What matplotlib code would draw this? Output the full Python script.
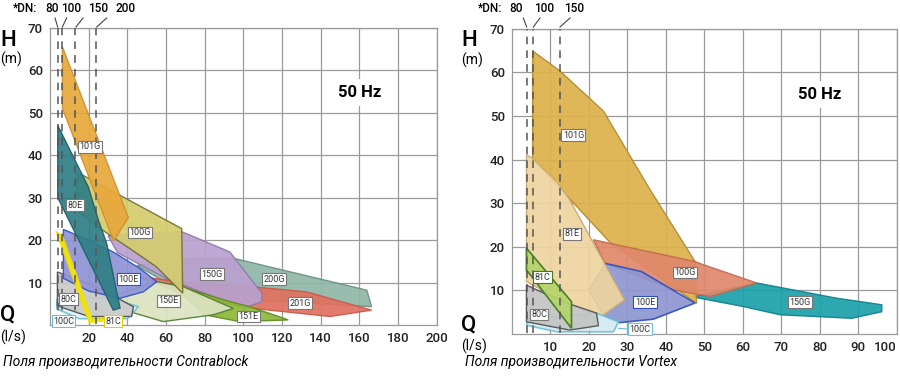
import matplotlib.pyplot as plt
from matplotlib.patches import Polygon

plt.rcParams['font.family'] = ['Roboto', 'DejaVu Sans']

# --- Contrablock fields (Q l/s, H m) ---
cb_names = ['200G', '201G', '150G', '151E', '150E', '100G', '101G',
            '100C', '80C', '100E', '80E', '81C']
cb_fields = {
    '200G': [(45, 14), (70, 15.5), (95, 15.7), (163.8, 8.2), (166.3, 4.3),
             (140, 5), (100, 6), (60, 10)],
    '201G': [(45, 11.5), (70, 10), (105, 9), (132.7, 7.8), (166.3, 3.5),
             (144.8, 2), (105, 3.9), (70, 7)],
    '150G': [(30, 21), (68, 22), (93, 17.2), (109.5, 7.5), (109.5, 5.5),
             (100, 3.9), (60, 11), (35, 17)],
    '151E': [(62, 9.8), (93, 5.5), (103.4, 4.3), (123.2, 1.2), (98, 0.8),
             (80, 2.4)],
    '150E': [(33, 7), (55.2, 10.2), (69, 9), (94.8, 3.9), (84.4, 2.4),
             (58.6, 0.8), (41.4, 3.1), (33, 4)],
    '100G': [(14, 36), (68.1, 22.7), (68.6, 7.5), (55, 13.7), (40, 18.4),
             (25, 23), (14, 27)],
    '101G': [(6.4, 65.5), (40.5, 25.3), (32.9, 19.8), (6.4, 51)],
    '100C': [(3.5, 6), (30, 6.5), (45.7, 4.3), (40, 1.5), (15, 1.5), (3.5, 3.8)],
    '80C': [(3.8, 12.5), (25.9, 8.6), (43.1, 4.3), (42.2, 2), (20, 2), (3.8, 4.5)],
    '100E': [(6.9, 22.5), (13.8, 21.2), (32.7, 17.2), (46.5, 13.3), (55.2, 10.2),
             (48.2, 7.8), (36.2, 6.3), (20, 8), (6.9, 11)],
    '80E': [(4, 47), (19.8, 32.5), (25, 24.7), (29.3, 19.2), (36.2, 4),
            (32.7, 3.5), (4, 30)],
    '81C': [(4, 21.5), (6, 21), (21.5, 1.2), (27.5, 1.2), (20.5, 0.8)],
}
cb_labels = {'101G': (20.7, 42), '80E': (12.9, 28.2), '100G': (46.5, 21.8),
             '100E': (40.5, 10.8), '150G': (83.6, 12), '80C': (9.5, 6.1),
             '150E': (61.2, 5.7), '100C': (6.9, 0.9), '81C': (32.7, 0.9),
             '200G': (116, 10.8), '201G': (129.3, 5.1), '151E': (102.5, 2.0)}
cb_dn = [80, 100, 150, 200]
cb_dn_q = [4.0, 6.4, 12.9, 23.9]

# --- Vortex fields ---
vx_names = ['150G', '101G', '100G', '100E', '81E', '100C', '80C', '81C']
vx_fields = {
    '150G': [(47, 8.5), (63.6, 11.7), (84.4, 8.2), (96.1, 6.7), (96.1, 5.1),
             (88.3, 3.6), (69.7, 4.4), (60.1, 6.3)],
    '101G': [(5.4, 64.9), (12.5, 60.3), (23.8, 51.1), (35.9, 33.1), (47.6, 16.6),
             (48, 7), (36, 14.5), (25.5, 21), (15, 31), (5.4, 40)],
    '100G': [(21.2, 21.6), (47.6, 16.6), (49.7, 15.9), (63.6, 11.7), (51.5, 8.6),
             (42, 10.1), (24.2, 16.2)],
    '100E': [(24.2, 16.2), (33.7, 14.3), (47.6, 7.1), (36.8, 3.4), (28, 2.6),
             (24, 4), (20, 10)],
    '81E': [(3.8, 41.1), (5.5, 40.2), (12, 34.6), (15, 30.8), (29.3, 7.8),
            (23.2, 4), (15, 6.7), (3.8, 12)],
    '100C': [(3.9, 3.5), (22, 4.8), (27.7, 2.8), (26.4, 0.5), (11.7, 0.5), (3.9, 2)],
    '80C': [(3.8, 11.2), (8, 9.5), (15.6, 6.7), (22, 4.8), (22.5, 1.9),
            (15, 0.9), (3.8, 2.8)],
    '81C': [(3.8, 19.7), (15.5, 7.4), (15.5, 1.3), (3.8, 14.7)],
}
vx_labels = {'101G': (16, 45.6), '81E': (15.6, 23), '81C': (8, 13),
             '80C': (7.1, 4.5), '100E': (34.6, 7.3), '100C': (33.3, 1.1),
             '100G': (45, 14.1), '150G': (74.9, 7.3)}
vx_dn = [80, 100, 150]
vx_dn_q = [3.9, 5.6, 12.5]

# fill, edge, edge width, label box edge
cb_style = {
    '200G': ('#8fb8a8', '#6b8f80', 1.0, '#777777'),
    '201G': ('#e0705e', '#c85a48', 1.0, '#777777'),
    '150G': ('#b9a0ce', '#8e7aa8', 1.0, '#777777'),
    '151E': ('#8db83a', '#5e8a20', 1.0, '#777777'),
    '150E': ('#dce3bf', '#4e7f30', 1.0, '#777777'),
    '100G': ('#d5cc6e', '#6f7030', 1.0, '#777777'),
    '101G': ('#e8a83c', '#d0902a', 1.0, '#777777'),
    '100C': ('#e2f1f8', '#6cc0dc', 1.2, '#6cc0dc'),
    '80C': ('#c9c9c9', '#505050', 1.0, '#777777'),
    '100E': ('#8e94d6', '#3050c8', 1.0, '#3050c8'),
    '80E': ('#2f7e86', '#1e6068', 1.0, '#777777'),
    '81C': ('#f6f3c8', '#f0e000', 2.2, '#e0d000'),
}
vx_style = {
    '150G': ('#1ba0aa', '#10808a', 1.0, '#777777'),
    '101G': ('#ddb14a', '#b08a2a', 1.0, '#777777'),
    '100G': ('#e0876a', '#c06a50', 1.0, '#777777'),
    '100E': ('#8e96d0', '#3050c0', 1.2, '#3050c0'),
    '81E': ('#efd4a0', '#c8a870', 1.0, '#777777'),
    '100C': ('#d2eaf2', '#70c0d8', 1.2, '#70c0d8'),
    '80C': ('#c4c4c4', '#505050', 1.0, '#777777'),
    '81C': ('#b5d36a', '#3c7a20', 1.2, '#3c7a20'),
}

W, H = 900, 381
fig = plt.figure(figsize=(9, 3.81), dpi=100)


def px(x, y):
    return x / W, 1 - y / H


def draw_chart(rect, xmax, xstep, names, fields, styles, labels, dn_q):
    ax = fig.add_axes(rect)
    ax.set_xlim(0, xmax)
    ax.set_ylim(0, 70)
    ax.set_xticks(range(xstep, xmax + 1, xstep))
    ax.set_yticks(range(10, 71, 10))
    ax.grid(True, color='#9a9a9a', lw=0.9, zorder=0)
    for s in ax.spines.values():
        s.set_color('#9a9a9a')
        s.set_linewidth(0.9)
    ax.tick_params(length=0, labelsize=9.5, colors='#222222', pad=5)
    for t in ax.get_xticklabels() + ax.get_yticklabels():
        t.set_fontweight('medium')
    ax.set_axisbelow(True)

    for i, n in enumerate(names):
        fc, ec, lw, _ = styles[n]
        ax.add_patch(Polygon(fields[n], closed=True, fc=fc, ec=ec, lw=lw,
                             alpha=0.92, zorder=2 + i * 0.1))
    for q in dn_q:
        ax.plot([q, q], [0.3, 70], color='#555555', lw=1.1,
                dashes=(5, 4), zorder=4)
    for n, (x, y) in labels.items():
        ax.text(x, y, n, fontsize=6.5, ha='center', va='center', color='#333333',
                zorder=6, bbox=dict(boxstyle='square,pad=0.15', fc='white',
                                    ec=styles[n][3], lw=0.8))
    return ax


# left: Contrablock
axl = draw_chart([0.0556, 0.147, 0.4297, 0.780], 200, 20, cb_names, cb_fields,
                 cb_style, cb_labels, cb_dn_q)
axl.text(160.3, 54.8, '50 Hz', fontsize=12, fontweight='bold', ha='center',
         va='center', zorder=7,
         bbox=dict(boxstyle='square,pad=0.35', fc='white', ec='none'))

# right: Vortex
axr = draw_chart([0.5687, 0.1234, 0.4277, 0.8013], 100, 10, vx_names, vx_fields,
                 vx_style, vx_labels, vx_dn_q)
axr.text(80, 54.9, '50 Hz', fontsize=12, fontweight='bold', ha='center',
         va='center', zorder=7,
         bbox=dict(boxstyle='square,pad=0.35', fc='white', ec='none'))
axr.plot([27.7, 30.5], [1.3, 1.1], color='#70c0d8', lw=0.9, zorder=5)
axr.get_xticklabels()[-1].set_horizontalalignment('right')

# DN headers with leader lines (label px, line-top px)
dn_left = [(52, 55, 57.7), (71, 66.7, 62.3), (98.5, 83, 76), (126, 106.7, 96.7)]
dn_right = [(516, 523.3, 526.7), (544, 540, 533.3), (574, 570, 560)]
fig.text(*px(13, 8), '*DN:', fontsize=8.5, va='center', ha='left', fontweight='medium')
fig.text(*px(478, 8), '*DN:', fontsize=8.5, va='center', ha='left', fontweight='medium')
for (lx, a, b), v in zip(dn_left, cb_dn):
    fig.text(*px(lx, 8), str(v), fontsize=8.5, va='center', ha='center', fontweight='medium')
    fig.add_artist(plt.Line2D([a / W, b / W], [1 - 18 / H, 1 - 27 / H],
                              color='#444444', lw=0.8))
for (lx, a, b), v in zip(dn_right, vx_dn):
    fig.text(*px(lx, 8), str(v), fontsize=8.5, va='center', ha='center', fontweight='medium')
    fig.add_artist(plt.Line2D([a / W, b / W], [1 - 18 / H, 1 - 27 / H],
                              color='#444444', lw=0.8))

# axis captions
for x0, yh, ym, yq, yl in [(0, 40, 59, 315, 337), (461, 40, 60, 325, 346)]:
    fig.text(*px(x0, yh), 'H', fontsize=16, fontweight='medium', va='center', ha='left')
    fig.text(*px(x0, ym), '(m)', fontsize=10, va='center', ha='left')
    fig.text(*px(x0, yq), 'Q', fontsize=16, fontweight='medium', va='center', ha='left')
    fig.text(*px(x0, yl), '(l/s)', fontsize=10, va='center', ha='left')

fig.text(*px(3, 362), 'Поля производительности Contrablock', fontsize=10,
         style='italic', va='center', ha='left')
fig.text(*px(465, 362), 'Поля производительности Vortex', fontsize=10,
         style='italic', va='center', ha='left')

fig.savefig('out.png', dpi=100)
